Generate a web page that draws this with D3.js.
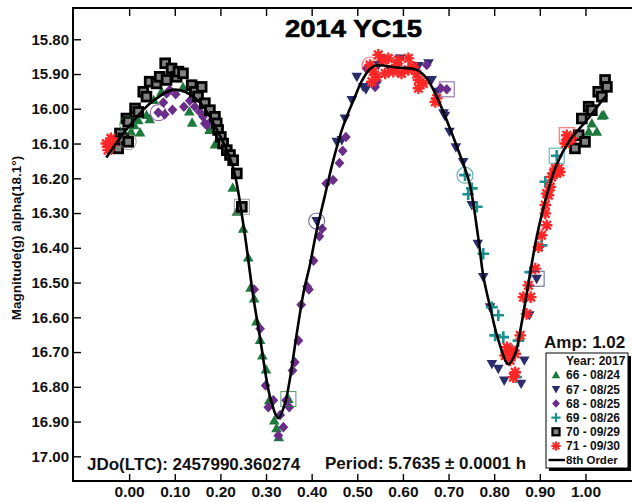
<!DOCTYPE html>
<html>
<head>
<meta charset="utf-8">
<script src="https://cdn.jsdelivr.net/npm/d3@7"></script>
<style>
  html, body { margin: 0; padding: 0; background: #fff; }
  svg { display: block; font-family: "Liberation Sans", Arial, sans-serif; font-weight: bold; }
</style>
</head>
<body>
<svg id="chart" width="632" height="502"></svg>
<script>
// tick values
const xTicks = [0, 0.1, 0.2, 0.3, 0.4, 0.5, 0.6, 0.7, 0.8, 0.9, 1.0];
const yTicks = [15.8, 15.9, 16.0, 16.1, 16.2, 16.3, 16.4, 16.5, 16.6, 16.7, 16.8, 16.9, 17.0];

// legend labels, one per session
const sessionLabels = ["66 - 08/24", "67 - 08/25", "68 - 08/25", "69 - 08/26", "70 - 09/29", "71 - 09/30"];

// [phase, magnitude]
const s66 = [[0.004,16.066],[0.011,16.047],[0.020,16.033],[0.024,16.068],[0.038,16.018],[0.045,16.03],
  [0.054,15.975],[0.071,15.951],[0.118,15.938],[0.132,16.008],[0.138,16.04],[0.176,16.061],[0.188,16.103],
  [0.227,16.227],[0.236,16.296],[0.25,16.345],[0.261,16.428],[0.266,16.515],[0.274,16.546],[0.279,16.612],
  [0.287,16.665],[0.292,16.71],[0.30,16.75],[0.307,16.839],[0.318,16.897],[0.323,16.919],[0.328,16.945],
  [0.349,16.835],[1.007,16.066],[1.014,16.042],[1.025,16.066],[1.036,16.02],[1.04,16.018]];

const s67 = [[0.411,16.323],[0.455,16.095],[0.466,16.09],[0.473,16.028],[0.488,15.975],[0.499,15.908],
  [0.513,15.937],[0.519,15.944],[0.546,15.874],[0.553,15.855],[0.572,15.888],[0.594,15.855],[0.634,15.877],
  [0.656,15.869],[0.663,15.917],[0.674,15.951],[0.689,16.013],[0.692,16.02],[0.702,16.066],[0.716,16.111],
  [0.732,16.153],[0.751,16.277],[0.764,16.388],[0.776,16.484],[0.791,16.571],[0.795,16.734],[0.809,16.748],
  [0.822,16.782],[0.859,16.791],[0.866,16.724],[0.877,16.594],[0.893,16.489]];

const s68 = [[0.064,16.011],[0.075,15.982],[0.078,16.016],[0.082,15.956],[0.089,15.946],[0.095,16.003],
  [0.102,15.958],[0.12,15.994],[0.133,15.977],[0.144,15.994],[0.155,16.009],[0.162,16.023],[0.166,16.042],
  [0.17,16.047],[0.181,16.033],[0.274,16.52],[0.287,16.633],[0.299,16.796],[0.305,16.859],[0.316,16.839],
  [0.331,16.881],[0.338,16.916],[0.327,16.94],[0.344,16.839],[0.351,16.859],[0.358,16.753],[0.363,16.729],
  [0.371,16.667],[0.377,16.564],[0.39,16.511],[0.394,16.52],[0.404,16.437],[0.417,16.367],[0.423,16.345],
  [0.432,16.215],[0.447,16.205],[0.461,16.156],[0.468,16.121],[0.475,16.081],[0.52,15.884],[0.539,15.937],
  [0.543,15.922],[0.652,15.874],[0.683,15.941],[0.696,15.944]];

const s69 = [[0.736,16.191],[0.743,16.246],[0.751,16.229],[0.762,16.282],[0.776,16.417],[0.795,16.571],
  [0.809,16.594],[0.802,16.652],[0.82,16.657],[0.853,16.667],[0.848,16.772],[0.879,16.47],[0.904,16.393],
  [0.912,16.21],[0.937,16.135]];

const s70 = [[-0.024,16.114],[-0.02,16.071],[-0.013,16.085],[-0.002,16.095],[-0.006,16.028],[-0.002,16.037],
  [0.013,15.999],[0.02,16.009],[0.031,15.951],[0.038,15.965],[0.045,15.922],[0.06,15.927],[0.067,15.908],
  [0.079,15.869],[0.082,15.917],[0.093,15.884],[0.104,15.908],[0.108,15.893],[0.118,15.898],[0.137,15.932],
  [0.144,15.951],[0.151,15.965],[0.159,15.937],[0.166,15.984],[0.177,16.004],[0.188,16.023],[0.192,16.042],
  [0.195,16.061],[0.201,16.081],[0.206,16.1],[0.214,16.119],[0.221,16.133],[0.228,16.148],[0.236,16.186],
  [0.247,16.282],[0.977,16.114],[0.985,16.076],[0.999,16.095],[0.992,16.028],[1.007,15.994],[1.014,16.004],
  [1.028,15.951],[1.036,15.965],[1.043,15.917],[1.047,15.937]];

const s71 = [[-0.05,16.10],[-0.046,16.119],[-0.042,16.109],[-0.035,16.095],[-0.04,16.085],
  [0.528,15.874],[0.532,15.922],[0.535,15.893],[0.543,15.908],[0.546,15.845],[0.557,15.86],[0.561,15.898],
  [0.568,15.855],[0.579,15.893],[0.586,15.874],[0.59,15.86],[0.597,15.898],[0.612,15.855],[0.612,15.888],
  [0.623,15.879],[0.63,15.9],[0.634,15.917],[0.634,15.941],[0.645,15.927],[0.671,15.98],[0.674,15.97],
  [0.828,16.686],[0.839,16.695],[0.824,16.71],[0.835,16.724],[0.846,16.705],[0.857,16.652],[0.846,16.758],
  [0.842,16.772],[0.871,16.59],[0.864,16.542],[0.88,16.542],[0.875,16.508],[0.89,16.46],[0.897,16.398],
  [0.904,16.364],[0.915,16.335],[0.912,16.301],[0.912,16.277],[0.915,16.244],[0.919,16.249],[0.923,16.225],
  [0.926,16.196],[0.93,16.186],[0.937,16.186],[0.944,16.182],[0.934,16.172],[0.941,16.172],[0.956,16.1],
  [0.959,16.076],[0.963,16.09],[0.97,16.085]];

// 8th order fit, read as points along the drawn line
const fitCurve = [[-0.05,16.14],[0.0,16.05],[0.05,15.98],[0.10,15.945],[0.15,15.975],[0.20,16.08],
  [0.228,16.17],[0.25,16.33],[0.272,16.54],[0.287,16.66],[0.309,16.83],[0.327,16.89],[0.341,16.85],
  [0.352,16.78],[0.367,16.65],[0.382,16.53],[0.396,16.45],[0.411,16.35],[0.429,16.25],[0.447,16.15],
  [0.469,16.05],[0.495,15.965],[0.51,15.92],[0.528,15.885],[0.543,15.875],[0.586,15.881],[0.63,15.888],
  [0.652,15.912],[0.674,15.965],[0.696,16.033],[0.72,16.115],[0.745,16.21],[0.765,16.37],[0.776,16.48],
  [0.791,16.57],[0.809,16.665],[0.831,16.735],[0.846,16.705],[0.86,16.618],[0.875,16.503],[0.893,16.37],
  [0.915,16.25],[0.937,16.16],[0.966,16.09],[1.003,16.033],[1.032,15.984],[1.047,15.96]];

// first / last point rings: [session index, phase, magnitude]
const ringCircles = [[0,-0.003,16.045],[1,0.411,16.323],[2,0.064,16.011],[3,0.736,16.191],[4,-0.002,16.095],[5,0.528,15.874]];
const ringBoxes = [[0,0.349,16.835],[1,0.893,16.489],[2,0.696,15.944],[3,0.937,16.135],[4,0.247,16.282],[5,0.959,16.076]];

const sessions = [s66, s67, s68, s69, s70, s71];
const kinds = ["up", "down", "diamond", "plus", "square", "star"];
const colors = ["#1d7a3c", "#2b2c6c", "#6a2d8a", "#1c8f8f", "#808080", "#ff2626"];

(function () {
  const svg = d3.select("#chart");
  const left = 73, right = 632, top = 8, bottom = 481;

  const x = d3.scaleLinear().domain([-0.123, 1.102]).range([left, right]);
  const y = d3.scaleLinear().domain([15.71, 17.071]).range([top, bottom]);

  function marker(g, kind, color, px, py, k) {
    k = k || 1;
    const m = g.append("g").attr("transform", `translate(${px},${py}) scale(${k})`);
    if (kind === "up") {
      m.append("path").attr("d", "M0,-5.4L5.3,4L-5.3,4Z").attr("fill", color);
    } else if (kind === "down") {
      m.append("path").attr("d", "M0,5.4L5.3,-4L-5.3,-4Z").attr("fill", color);
    } else if (kind === "diamond") {
      m.append("path").attr("d", "M0,-5.3L4.9,0L0,5.3L-4.9,0Z").attr("fill", color);
    } else if (kind === "plus") {
      m.append("path").attr("d", "M-5.8,0H5.8M0,-5.8V5.8").attr("stroke", color).attr("stroke-width", 2.6);
    } else if (kind === "square") {
      m.append("rect").attr("x", -4.4).attr("y", -4.4).attr("width", 8.8).attr("height", 8.8)
        .attr("fill", color).attr("stroke", "#000").attr("stroke-width", 2.8);
    } else if (kind === "star") {
      m.append("path").attr("d", "M-5.8,0H5.8M0,-5.8V5.8M-4.2,-4.2L4.2,4.2M-4.2,4.2L4.2,-4.2")
        .attr("stroke", color).attr("stroke-width", 2.4);
    }
  }

  // axes
  const yAxis = svg.append("g").attr("transform", `translate(${left},0)`)
    .call(d3.axisLeft(y).tickValues(yTicks).tickSize(-8).tickPadding(4).tickFormat(d3.format(".2f")));
  const xAxis = svg.append("g").attr("transform", `translate(0,${bottom})`)
    .call(d3.axisBottom(x).tickValues(xTicks).tickSize(-7).tickPadding(5).tickFormat(d3.format(".2f")));
  const xTop = svg.append("g").attr("transform", `translate(0,${top})`)
    .call(d3.axisTop(x).tickValues(xTicks).tickSize(-8).tickFormat(""));

  [yAxis, xAxis, xTop].forEach(a => {
    a.attr("font-family", null).attr("font-size", null);
    a.select(".domain").remove();
    a.selectAll(".tick line").attr("stroke", "#000").attr("stroke-width", 1.4);
    a.selectAll(".tick text").attr("fill", "#111").style("font-size", "15px");
  });
  xAxis.selectAll(".tick text").style("font-size", "15.5px");

  svg.append("path")
    .attr("d", `M${right + 5},${top}H${left}V${bottom}H${right + 5}`)
    .attr("fill", "none").attr("stroke", "#000").attr("stroke-width", 2);

  // points
  const pts = svg.append("g").attr("class", "points");
  sessions.forEach((data, i) => {
    data.forEach(d => marker(pts, kinds[i], colors[i], x(d[0]), y(d[1])));
  });

  const rings = svg.append("g").attr("class", "rings").attr("fill", "none").attr("stroke-width", 1.1);
  rings.selectAll("circle").data(ringCircles).enter().append("circle")
    .attr("cx", d => x(d[1])).attr("cy", d => y(d[2])).attr("r", 8)
    .attr("stroke", d => colors[d[0]]).attr("stroke-opacity", 0.7);
  rings.selectAll("rect").data(ringBoxes).enter().append("rect")
    .attr("x", d => x(d[1]) - 7.5).attr("y", d => y(d[2]) - 7.5).attr("width", 15).attr("height", 15)
    .attr("stroke", d => colors[d[0]]).attr("stroke-opacity", 0.7);

  // fit line
  const line = d3.line().x(d => x(d[0])).y(d => y(d[1])).curve(d3.curveCatmullRom.alpha(0.5));
  svg.append("path").datum(fitCurve).attr("d", line)
    .attr("fill", "none").attr("stroke", "#000").attr("stroke-width", 2.6);

  // texts
  svg.append("text").attr("x", 353.5).attr("y", 37).attr("text-anchor", "middle")
    .attr("textLength", 137).attr("lengthAdjust", "spacingAndGlyphs")
    .attr("stroke", "#000").attr("stroke-width", 0.6)
    .style("font-size", "24px").text("2014 YC15");

  svg.append("text").attr("transform", "translate(21,238) rotate(-90)").attr("text-anchor", "middle")
    .style("font-size", "13.5px").attr("fill", "#111").text("Magnitude(g) alpha(18.1°)");

  svg.append("text").attr("x", 87).attr("y", 470).style("font-size", "17px").attr("fill", "#111")
    .text("JDo(LTC): 2457990.360274");
  svg.append("text").attr("x", 325).attr("y", 469).style("font-size", "17px").attr("fill", "#111")
    .text("Period: 5.7635 ± 0.0001 h");
  svg.append("text").attr("x", 544).attr("y", 347.5).style("font-size", "17px").attr("fill", "#111")
    .text("Amp: 1.02");

  // legend
  const lg = svg.append("g").attr("transform", "translate(546,353)");
  lg.append("rect").attr("x", 3).attr("y", 3).attr("width", 82).attr("height", 115).attr("fill", "#000");
  lg.append("rect").attr("x", 0).attr("y", 0).attr("width", 82).attr("height", 115)
    .attr("fill", "#fff").attr("stroke", "#000").attr("stroke-width", 1);
  lg.append("text").attr("x", 20).attr("y", 11.5).style("font-size", "12px").attr("fill", "#111").text("Year: 2017");
  sessionLabels.forEach((lab, i) => {
    const yy = 26.3 + i * 14.2;
    marker(lg, kinds[i], colors[i], 10, yy - 4.3, 0.8);
    lg.append("text").attr("x", 20).attr("y", yy).style("font-size", "12px").attr("fill", "#111").text(lab);
  });
  lg.append("path").attr("d", "M2.5,107H19").attr("stroke", "#000").attr("stroke-width", 2.4);
  lg.append("text").attr("x", 20).attr("y", 110.5).style("font-size", "11.5px").attr("fill", "#111").text("8th Order");
})();
</script>
</body>
</html>
